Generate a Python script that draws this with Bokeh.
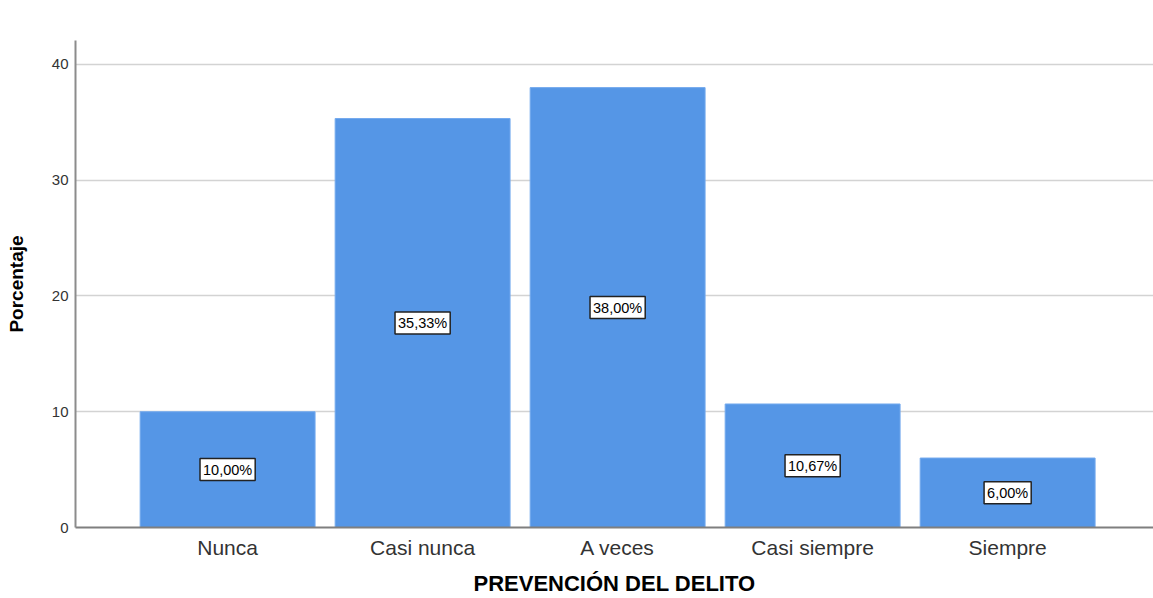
from bokeh.plotting import figure
from bokeh.models import ColumnDataSource, Label, FixedTicker, Range1d
from bokeh.core.properties import value
from bokeh.embed import file_html
from bokeh.resources import INLINE

categories = ["Nunca", "Casi nunca", "A veces", "Casi siempre", "Siempre"]
percentages = [10.00, 35.33, 38.00, 10.67, 6.00]
label_texts = ["10,00%", "35,33%", "38,00%", "10,67%", "6,00%"]
y_ticks = [0, 10, 20, 30, 40]

FONT = "Liberation Sans"
xs = list(range(1, len(categories) + 1))
src = ColumnDataSource(dict(
    x=xs, top=percentages, mid=[v / 2 for v in percentages], lab=label_texts))

p = figure(width=1153, height=598, output_backend="svg", toolbar_location=None,
           x_range=Range1d(0.22, 5.748), y_range=Range1d(0, 42.07),
           min_border_left=75, min_border_right=0, min_border_top=40,
           min_border_bottom=71)
p.outline_line_color = None
p.background_fill_color = "white"

p.vbar(x="x", top="top", width=0.897, source=src, fill_color="#5596E6",
       line_color="#74AAEE", line_width=1)

p.text(x="x", y="mid", text="lab", source=src, text_align="center",
       text_baseline="middle", text_font=value(FONT), text_font_size="14.5px",
       text_color="black", background_fill_color="white",
       border_line_color="#222222", border_line_width=1.5, padding=3)

# grid
p.xgrid.grid_line_color = None
p.ygrid.ticker = FixedTicker(ticks=y_ticks)
p.ygrid.grid_line_color = "#D3D3D3"
p.ygrid.grid_line_width = 1.5

# y axis
p.yaxis.ticker = FixedTicker(ticks=y_ticks)
p.yaxis.axis_label = "Porcentaje"
p.yaxis.axis_label_text_font = FONT
p.yaxis.axis_label_text_font_style = "bold"
p.yaxis.axis_label_text_font_size = "19px"
p.yaxis.axis_label_text_color = "black"
p.yaxis.axis_label_standoff = 22
p.yaxis.major_label_text_font = FONT
p.yaxis.major_label_text_font_size = "15px"
p.yaxis.major_label_text_color = "#333333"
p.yaxis.major_label_standoff = 7
p.yaxis.major_tick_out = 0
p.yaxis.major_tick_in = 0
p.yaxis.major_tick_line_color = None
p.yaxis.minor_tick_line_color = None
p.yaxis.axis_line_color = "#8C8C8C"
p.yaxis.axis_line_width = 2

# x axis
p.xaxis.ticker = FixedTicker(ticks=xs)
p.xaxis.major_label_overrides = {x: c for x, c in zip(xs, categories)}
p.xaxis.axis_label = "PREVENCIÓN DEL DELITO"
p.xaxis.axis_label_text_font = FONT
p.xaxis.axis_label_text_font_style = "bold"
p.xaxis.axis_label_text_font_size = "22px"
p.xaxis.axis_label_text_color = "black"
p.xaxis.axis_label_standoff = 9
p.xaxis.major_label_text_font = FONT
p.xaxis.major_label_text_font_size = "21px"
p.xaxis.major_label_text_color = "#333333"
p.xaxis.major_label_standoff = 2
p.xaxis.major_tick_line_color = None
p.xaxis.minor_tick_line_color = None
p.xaxis.axis_line_color = "#7F7F7F"
p.xaxis.axis_line_width = 2

title = Label(x=502, y=505, x_units="screen", y_units="screen",
              text="PREVENCIÓN DEL DELITO", text_align="center",
              text_baseline="middle", text_font=FONT, text_font_style="bold",
              text_font_size="22px", text_color="black")
p.add_layout(title)

open("out.html", "w").write(file_html(p, INLINE))
